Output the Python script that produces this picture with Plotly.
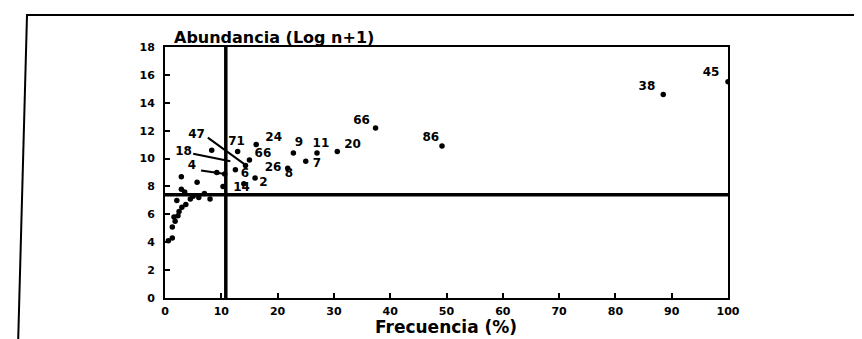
import plotly.graph_objects as go

# Data
freq = [100.0, 88.5, 37.4, 49.2, 30.6, 27.0, 22.8, 25.0, 21.8, 16.2, 12.9, 8.3,
        14.3, 2.9, 5.7, 2.9, 9.2, 10.6, 12.5, 15.0, 16.0, 10.3, 14.0,
        1.3, 0.6, 1.3, 1.8, 2.3, 3.0, 3.7, 2.1, 4.5, 6.0, 8.0, 7.0, 3.5, 5.0, 2.5, 1.6]
abund = [15.5, 14.6, 12.2, 10.9, 10.5, 10.4, 10.4, 9.8, 9.3, 11.0, 10.5, 10.6,
         9.5, 8.7, 8.3, 7.8, 9.0, 8.9, 9.2, 9.9, 8.6, 8.0, 8.2,
         4.3, 4.1, 5.1, 5.5, 5.9, 6.5, 6.7, 7.0, 7.1, 7.2, 7.1, 7.5, 7.6, 7.3, 6.2, 5.8]

label_text = ["47", "71", "24", "9", "11", "20", "66", "86", "38", "45", "18", "4",
              "66", "26", "6", "8", "7", "2", "14"]
label_x = [5.6, 12.7, 19.3, 23.8, 27.7, 33.3, 34.9, 47.2, 85.6, 97.0, 3.3, 4.8,
           17.4, 19.2, 14.2, 22.0, 27.0, 17.5, 13.6]
label_y = [11.7, 11.2, 11.5, 11.1, 11.05, 11.0, 12.7, 11.5, 15.1, 16.1, 10.45, 9.45,
           10.35, 9.3, 8.9, 8.9, 9.6, 8.25, 7.9]

# leader lines (start x, start y, end x, end y) for labels 47, 18, 4
leaders = [(7.6, 11.5, 14.1, 9.6), (5.0, 10.35, 11.6, 9.8), (6.4, 9.15, 10.7, 8.9)]

freq_cut = 10.8
abund_cut = 7.4

FONT = "DejaVu Sans"

fig = go.Figure()
fig.add_trace(go.Scatter(x=freq, y=abund, mode="markers",
                         marker=dict(color="black", size=5.5),
                         showlegend=False, hoverinfo="skip"))
fig.add_trace(go.Scatter(x=label_x, y=label_y, mode="text",
                         text=["<b>%s</b>" % t for t in label_text],
                         textfont=dict(family=FONT, size=12, color="black"),
                         showlegend=False, hoverinfo="skip"))

for x0, y0, x1, y1 in leaders:
    fig.add_shape(type="line", x0=x0, y0=y0, x1=x1, y1=y1,
                  line=dict(color="black", width=2))

# reference lines
fig.add_shape(type="line", x0=freq_cut, x1=freq_cut, y0=0, y1=18,
              line=dict(color="black", width=3.5))
fig.add_shape(type="line", x0=0, x1=100, y0=abund_cut, y1=abund_cut,
              line=dict(color="black", width=3.5))

# outer page frame (paper coordinates)
W, H = 862, 339
L, R, T, B = 157, 142, 39, 49
pw, ph = W - L - R, H - T - B
def px(x):
    return (x - L) / pw
def py(y):
    return (H - B - y) / ph
fig.add_shape(type="line", xref="paper", yref="paper",
              x0=px(18), y0=py(7), x1=px(862), y1=py(7),
              line=dict(color="black", width=2))
fig.add_shape(type="line", xref="paper", yref="paper",
              x0=px(19), y0=py(7), x1=px(10), y1=py(339),
              line=dict(color="black", width=2))
fig.add_shape(type="line", xref="paper", yref="paper",
              x0=px(861), y0=py(40), x1=px(848), y1=py(339),
              line=dict(color="black", width=2))

fig.add_annotation(xref="paper", yref="paper", x=px(164), y=py(29),
                   xanchor="left", yanchor="middle", showarrow=False,
                   text="<b>Abundancia (Log n+1)</b>",
                   font=dict(family=FONT, size=16, color="black"))
fig.add_annotation(xref="paper", yref="paper", x=px(438), y=py(319),
                   xanchor="center", yanchor="middle", showarrow=False,
                   text="<b>Frecuencia (%)</b>",
                   font=dict(family=FONT, size=17, color="black"))

fig.update_layout(
    width=W, height=H,
    margin=dict(l=L, r=R, t=T, b=B),
    paper_bgcolor="white", plot_bgcolor="white",
    font=dict(family=FONT, size=11, color="black"),
    xaxis=dict(range=[0, 100], tickvals=list(range(0, 101, 10)),
               ticktext=["<b>%d</b>" % v for v in range(0, 101, 10)],
               ticks="inside", ticklen=5, tickwidth=1.5, tickcolor="black",
               showline=True, linecolor="black", linewidth=2, mirror=True,
               showgrid=False, zeroline=False, ticklabelstandoff=2),
    yaxis=dict(range=[0, 18], tickvals=list(range(0, 19, 2)),
               ticktext=["<b>%d</b>" % v for v in range(0, 19, 2)],
               ticks="inside", ticklen=5, tickwidth=1.5, tickcolor="black",
               showline=True, linecolor="black", linewidth=2, mirror=True,
               showgrid=False, zeroline=False, ticklabelstandoff=6),
)

fig.write_html("out.html")
